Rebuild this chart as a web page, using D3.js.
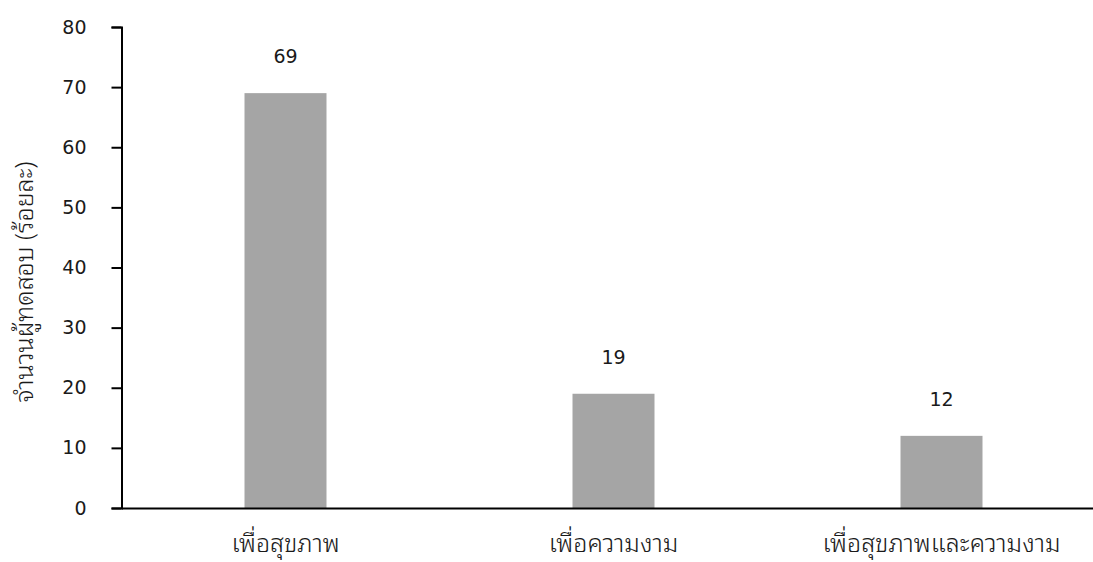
<!DOCTYPE html>
<html>
<head>
<meta charset="utf-8">
<script src="https://cdn.jsdelivr.net/npm/d3@7"></script>
<style>
  html, body { margin: 0; padding: 0; background: #fff; }
  svg { display: block; }
  text { fill: #1a1a1a; }
  .num { font-family: "DejaVu Sans", "Noto Sans", sans-serif; }
  .thai { font-family: "Noto Sans Thai Looped", "Noto Sans", sans-serif; font-weight: 300; }
</style>
</head>
<body>
<svg id="chart" width="1093" height="562"></svg>
<script>
// Purpose of use and share of respondents (percent)
const categories = ["เพื่อสุขภาพ", "เพื่อความงาม", "เพื่อสุขภาพและความงาม"];
const values = [69, 19, 12];
const yTicks = [0, 10, 20, 30, 40, 50, 60, 70, 80];
const yTitle = "จำนวนผู้ทดสอบ (ร้อยละ)";

const svg = d3.select("#chart");
const margin = { left: 121.5, top: 27, bottom: 508 };

const x = d3.scaleBand()
  .domain(categories)
  .range([margin.left, margin.left + 984])
  .paddingInner(0.75)
  .paddingOuter(0.375);

const y = d3.scaleLinear()
  .domain([0, 80])
  .range([margin.bottom, margin.top]);

// bars
svg.append("g")
  .selectAll("rect")
  .data(values)
  .join("rect")
  .attr("x", (d, i) => x(categories[i]))
  .attr("y", d => y(d))
  .attr("width", x.bandwidth())
  .attr("height", d => y(0) - y(d))
  .attr("fill", "#a5a5a5");

// value labels
svg.append("g")
  .selectAll("text")
  .data(values)
  .join("text")
  .attr("class", "num")
  .attr("x", (d, i) => x(categories[i]) + x.bandwidth() / 2)
  .attr("y", d => y(d) - 30)
  .attr("text-anchor", "middle")
  .style("font-size", "19px")
  .text(d => d);

// y axis
const yAxis = svg.append("g")
  .attr("transform", `translate(${margin.left},0)`)
  .call(d3.axisLeft(y).tickValues(yTicks).tickSize(10).tickPadding(25));
yAxis.attr("font-family", null).attr("font-size", null);
yAxis.select(".domain").attr("stroke", "#000").attr("stroke-width", 2);
yAxis.selectAll(".tick line").attr("stroke", "#000").attr("stroke-width", 2);
yAxis.selectAll(".tick text").attr("class", "num").style("font-size", "19px").attr("fill", "#1a1a1a");

// x axis
const xAxis = svg.append("g")
  .attr("transform", `translate(0,${margin.bottom})`)
  .call(d3.axisBottom(x).tickSize(0).tickPadding(0));
xAxis.attr("font-family", null).attr("font-size", null);
xAxis.select(".domain").attr("stroke", "#000").attr("stroke-width", 2);
xAxis.selectAll(".tick text")
  .attr("class", "thai")
  .attr("y", 44)
  .attr("dy", null)
  .style("font-size", "25px")
  .attr("fill", "#1a1a1a");

// y title
svg.append("text")
  .attr("class", "thai")
  .attr("transform", "translate(33,282) rotate(-90)")
  .attr("text-anchor", "middle")
  .style("font-size", "25px")
  .text(yTitle);
</script>
</body>
</html>
